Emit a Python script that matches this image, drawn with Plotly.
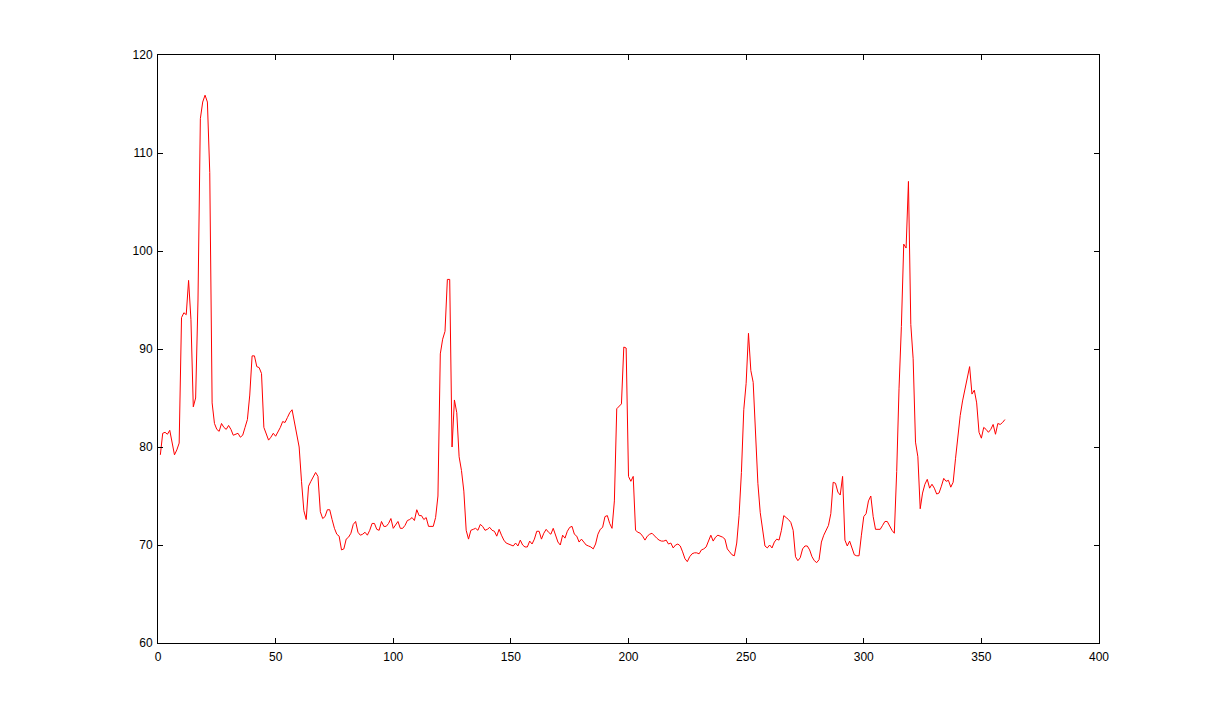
import plotly.graph_objects as go

# Series values, index 1..360
y_1_60 = [79.2, 81.4, 81.5, 81.3, 81.7, 80.5, 79.2, 79.7, 80.4, 93.2,
          93.7, 93.5, 97.0, 93.0, 84.1, 85.0, 95.0, 113.5, 115.2, 115.9,
          115.2, 108.0, 84.5, 82.4, 81.8, 81.6, 82.4, 82.0, 81.8, 82.2,
          81.8, 81.2, 81.3, 81.4, 81.0, 81.2, 82.0, 82.8, 85.3, 89.3,
          89.3, 88.2, 88.1, 87.5, 82.0, 81.4, 80.7, 81.0, 81.4, 81.1,
          81.5, 82.0, 82.6, 82.5, 83.0, 83.5, 83.8, 82.4, 81.0, 80.0]
y_61_120 = [76.5, 73.5, 72.6, 76.0, 76.5, 77.0, 77.4, 77.0, 73.4, 72.7,
            72.9, 73.6, 73.6, 72.6, 71.7, 71.1, 70.9, 69.5, 69.6, 70.6,
            70.8, 71.2, 72.1, 72.4, 71.3, 71.0, 71.1, 71.3, 71.0, 71.5,
            72.2, 72.2, 71.6, 71.5, 72.4, 71.9, 71.9, 72.2, 72.7, 71.7,
            72.1, 72.4, 71.7, 71.7, 72.0, 72.5, 72.6, 72.8, 72.5, 73.6,
            73.0, 73.0, 72.6, 72.8, 71.9, 71.9, 71.9, 72.8, 75.0, 89.5]
y_121_180 = [91.0, 91.8, 97.1, 97.1, 80.0, 84.8, 83.5, 79.0, 77.6, 75.5,
             71.5, 70.6, 71.5, 71.6, 71.7, 71.5, 72.1, 71.9, 71.5, 71.6,
             71.8, 71.5, 71.4, 70.9, 71.6, 71.0, 70.5, 70.2, 70.1, 70.0,
             69.9, 70.2, 69.9, 70.5, 70.0, 69.8, 69.8, 70.4, 70.1, 70.6,
             71.4, 71.4, 70.6, 71.2, 71.6, 71.3, 71.1, 71.7, 71.0, 70.3,
             70.0, 71.0, 70.7, 71.4, 71.8, 71.9, 71.1, 70.9, 70.3, 70.6]
y_181_240 = [70.3, 70.0, 69.9, 69.8, 69.6, 70.1, 71.1, 71.6, 71.8, 72.9,
             73.0, 72.2, 71.7, 74.5, 83.9, 84.2, 84.4, 90.2, 90.1, 77.0,
             76.5, 77.0, 71.5, 71.3, 71.2, 70.9, 70.5, 70.9, 71.1, 71.2,
             70.9, 70.7, 70.5, 70.4, 70.4, 70.5, 70.1, 70.2, 69.7, 70.0,
             70.1, 69.9, 69.3, 68.6, 68.3, 68.8, 69.1, 69.2, 69.2, 69.1,
             69.5, 69.6, 69.8, 70.5, 71.0, 70.4, 70.8, 71.0, 70.9, 70.8]
y_241_300 = [70.6, 69.6, 69.3, 69.0, 68.9, 70.2, 73.0, 77.4, 83.8, 86.5,
             91.6, 87.8, 86.6, 80.5, 76.3, 73.3, 71.8, 69.9, 69.7, 70.0,
             69.7, 70.3, 70.6, 70.5, 71.5, 73.0, 72.8, 72.6, 72.3, 71.5,
             68.8, 68.4, 68.7, 69.6, 69.9, 69.9, 69.5, 68.8, 68.4, 68.2,
             68.5, 70.3, 71.0, 71.5, 72.0, 73.2, 76.4, 76.3, 75.4, 75.1,
             77.0, 70.5, 69.9, 70.4, 69.8, 69.0, 68.9, 68.9, 71.0, 72.9]
y_301_360 = [73.2, 74.5, 75.0, 72.9, 71.6, 71.6, 71.6, 72.0, 72.4, 72.4,
             71.9, 71.5, 71.2, 77.5, 86.0, 92.3, 100.7, 100.3, 107.1, 92.5,
             89.0, 80.5, 79.0, 73.7, 75.3, 76.2, 76.7, 75.8, 76.2, 75.8,
             75.2, 75.3, 76.0, 76.8, 76.5, 76.6, 75.9, 76.4, 78.8, 81.0,
             83.2, 84.7, 85.9, 87.3, 88.2, 85.4, 85.8, 84.5, 81.5, 80.9,
             82.0, 81.8, 81.5, 81.8, 82.3, 81.3, 82.4, 82.3, 82.5, 82.8]

y_values = y_1_60 + y_61_120 + y_121_180 + y_181_240 + y_241_300 + y_301_360
x_values = list(range(1, len(y_values) + 1))

x_ticks = [0, 50, 100, 150, 200, 250, 300, 350, 400]
y_ticks = [60, 70, 80, 90, 100, 110, 120]

fig = go.Figure()
fig.add_trace(go.Scatter(x=x_values, y=y_values, mode="lines",
                         line=dict(color="#ff0000", width=1),
                         showlegend=False, hoverinfo="x+y"))

axis_common = dict(showgrid=False, zeroline=False, showline=True,
                   linecolor="black", linewidth=1, mirror="allticks",
                   ticks="inside", ticklen=5, tickwidth=1, tickcolor="black",
                   tickfont=dict(family="Liberation Sans, Arial, sans-serif",
                                 size=12, color="black"))

fig.update_xaxes(range=[0, 400], tickvals=x_ticks,
                 ticktext=[str(v) for v in x_ticks],
                 ticklabelstandoff=3, **axis_common)
fig.update_yaxes(range=[60, 120], tickvals=y_ticks,
                 ticktext=[str(v) for v in y_ticks],
                 ticklabelstandoff=2, **axis_common)

# page body has an 8px margin, so shift the plot area up/left by 8px
fig.update_layout(width=1214, height=724,
                  margin=dict(l=150, r=123, t=47, b=89),
                  paper_bgcolor="white", plot_bgcolor="white")

fig.write_html("out.html")
